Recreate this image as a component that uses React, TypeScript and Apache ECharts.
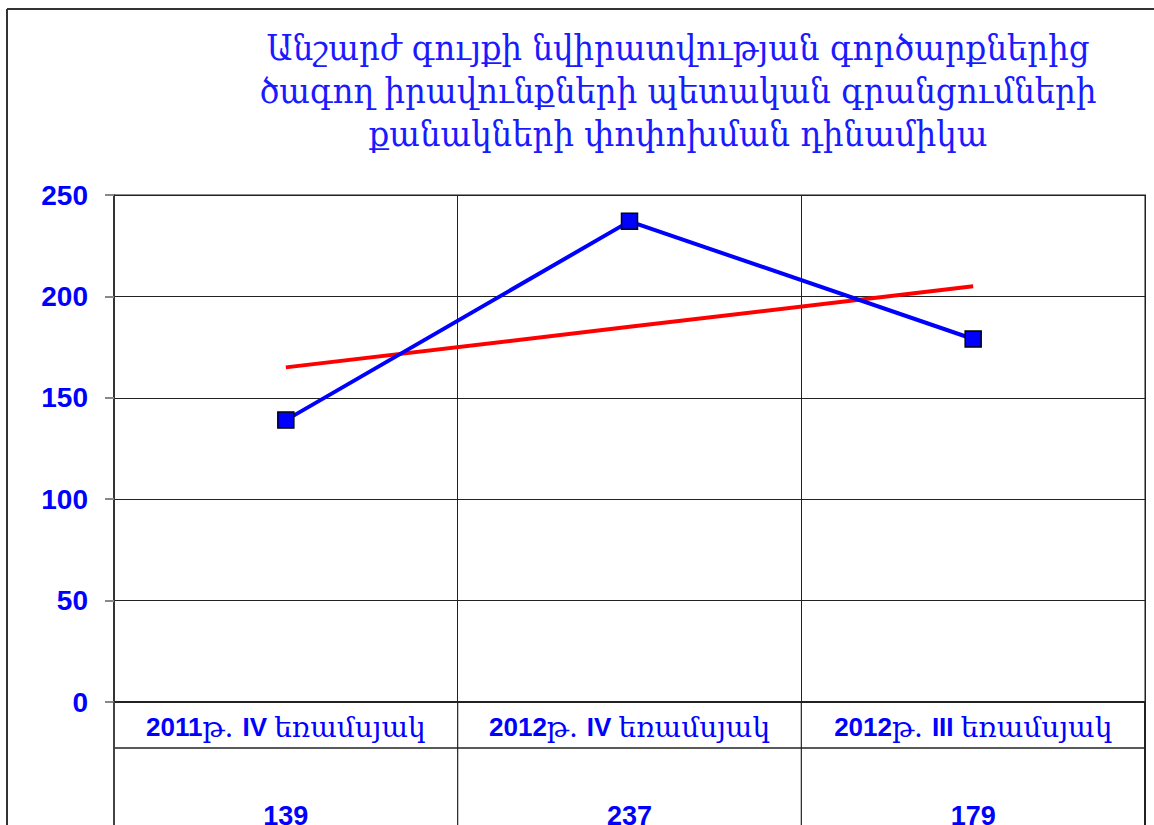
import React, { useEffect, useRef } from "react";
import * as echarts from "echarts";

const titleLines = [
  "Անշարժ գույքի նվիրատվության գործարքներից",
  "ծագող իրավունքների պետական գրանցումների",
  "քանակների փոփոխման դինամիկա",
];
const categories = ["2011թ. IV եռամսյակ", "2012թ. IV եռամսյակ", "2012թ. III եռամսյակ"];
const values = [139, 237, 179];
const trend = [165, 185, 205];
const yTicks = { min: 0, max: 250, interval: 50 };

const BLUE = "#0000FF";
const LABEL_FONT = "Arial, 'Liberation Sans', 'DejaVu Sans', sans-serif";
const ARM_FONT = "'DejaVu Serif', serif";
const TITLE_FONT = "'DejaVu Serif Condensed', 'DejaVu Serif', serif";

function richLabel(s: string) {
  const parts: string[] = [];
  let cur = "";
  let curArm: boolean | null = null;
  for (const ch of s) {
    const code = ch.codePointAt(0)!;
    const arm = code >= 0x0530 && code <= 0x058f;
    const isSpaceOrDot = ch === " " || ch === ".";
    const a = isSpaceOrDot && curArm !== null ? curArm : arm;
    if (curArm === null || a === curArm) {
      cur += ch;
      curArm = a;
    } else {
      parts.push(`{${curArm ? "arm" : "lat"}|${cur}}`);
      cur = ch;
      curArm = a;
    }
  }
  if (cur) parts.push(`{${curArm ? "arm" : "lat"}|${cur}}`);
  return parts.join("");
}

export default function App() {
  const ref = useRef<HTMLDivElement>(null);
  useEffect(() => {
    document.body.style.margin = "0";
    const chart = echarts.init(ref.current!, null, { renderer: "svg" });
    const gLeft = 114, gRight = 1145, gTop = 195, gBottom = 702;
    const colW = (gRight - gLeft) / categories.length;
    const tableLines: any[] = [];
    tableLines.push({ type: "line", shape: { x1: gLeft, y1: 748, x2: gRight, y2: 748 }, style: { stroke: "#222", lineWidth: 1.5 }, z: 10 });
    for (let i = 0; i <= categories.length; i++) {
      const x = gLeft + colW * i;
      tableLines.push({ type: "line", shape: { x1: x, y1: gBottom, x2: x, y2: 825 }, style: { stroke: i === 0 ? "#444" : "#222", lineWidth: i === 0 || i === categories.length ? 2 : 1.2 }, z: 10 });
    }
    chart.setOption({
      animation: false,
      backgroundColor: "#fff",
      grid: {
        left: gLeft,
        right: 1154 - gRight,
        top: gTop,
        bottom: 825 - gBottom,
        show: true,
        borderColor: "#8c8c8c",
        borderWidth: 2,
        containLabel: false,
        outerBoundsMode: "none",
      },
      graphic: [
        { type: "line", shape: { x1: 7, y1: 9, x2: 1154, y2: 9 }, style: { stroke: "#333", lineWidth: 2 } },
        { type: "line", shape: { x1: 7, y1: 9, x2: 7, y2: 825 }, style: { stroke: "#333", lineWidth: 2 } },
        ...titleLines.map((t, i) => ({
          type: "text",
          x: 678,
          y: 47 + i * 43,
          style: {
            text: t,
            fill: "#1a1aff",
            font: `36px ${TITLE_FONT}`,
            textAlign: "center",
            textVerticalAlign: "middle",
          },
        })),
        ...tableLines,
      ],
      xAxis: [
        {
          type: "category",
          data: categories,
          boundaryGap: true,
          axisLine: { show: true, lineStyle: { color: "#222", width: 2 } },
          axisTick: { show: false },
          splitLine: { show: true, lineStyle: { color: "#222", width: 1 } },
          axisLabel: {
            margin: 11,
            formatter: (v: string) => richLabel(v),
            rich: {
              lat: { color: BLUE, fontSize: 26, fontWeight: "bold", fontFamily: LABEL_FONT },
              arm: { color: BLUE, fontSize: 28, fontWeight: "normal", fontFamily: ARM_FONT },
            },
          },
        },
        {
          type: "category",
          data: values.map(String),
          position: "bottom",
          boundaryGap: true,
          axisLine: { show: false },
          axisTick: { show: false },
          splitLine: { show: false },
          axisLabel: { margin: 100, color: BLUE, fontSize: 27, fontWeight: "bold", fontFamily: LABEL_FONT },
        },
      ],
      yAxis: {
        type: "value",
        min: yTicks.min,
        max: yTicks.max,
        interval: yTicks.interval,
        axisLine: { show: true, lineStyle: { color: "#333", width: 2 } },
        axisTick: { show: true, length: 9, lineStyle: { color: "#888", width: 2 } },
        splitLine: { show: true, lineStyle: { color: "#222", width: 1 } },
        axisLabel: { margin: 26, color: BLUE, fontSize: 28, fontWeight: "bold", fontFamily: LABEL_FONT },
      },
      series: [
        {
          type: "line",
          data: trend,
          symbol: "none",
          lineStyle: { color: "#FF0000", width: 4 },
          z: 3,
        },
        {
          type: "line",
          data: values,
          symbol: "rect",
          symbolSize: 16,
          itemStyle: { color: BLUE, borderColor: "#000", borderWidth: 1.5 },
          lineStyle: { color: BLUE, width: 4 },
          z: 4,
        },
      ],
    });
    return () => chart.dispose();
  }, []);
  return <div ref={ref} style={{ position: "absolute", left: 0, top: 0, width: 1154, height: 825 }} />;
}
